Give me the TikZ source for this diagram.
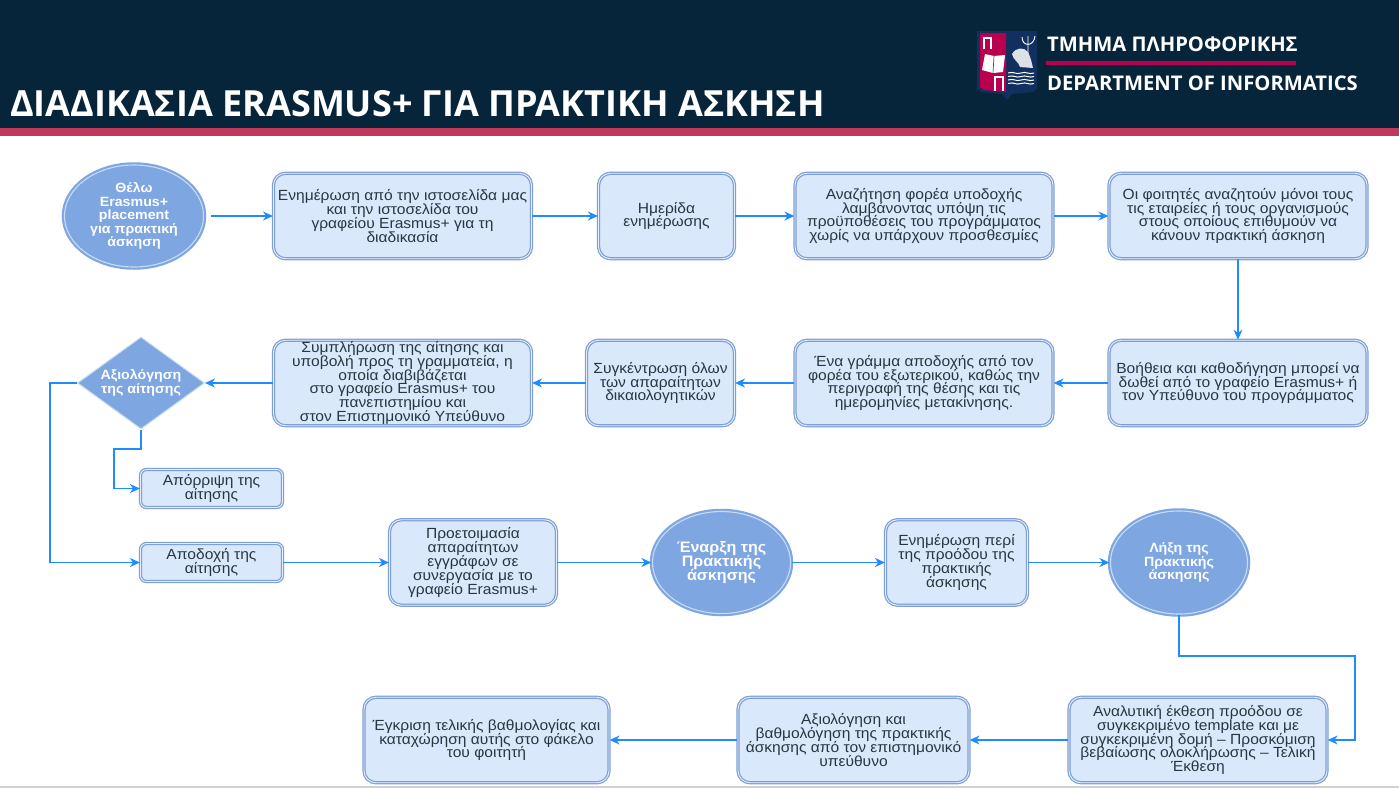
\documentclass[tikz,border=0pt]{standalone}
\usepackage{fontspec}
\setmainfont[FakeStretch=1.06]{Liberation Sans}
\newfontfamily\titlefont{Open Sans}
\usetikzlibrary{arrows.meta,shapes.geometric}

\normallineskiplimit=-10pt
\lineskiplimit=-10pt

\definecolor{headerblue}{HTML}{06243A}
\definecolor{stripered}{HTML}{BD3A5C}
\definecolor{logored}{HTML}{B8004F}
\definecolor{logonavy}{HTML}{12305F}
\definecolor{boxfill}{HTML}{DAE8FC}
\definecolor{boxline}{HTML}{7E9FD4}
\definecolor{startfill}{HTML}{7EA6E0}
\definecolor{startring}{HTML}{C9DBF5}
\definecolor{flowblue}{HTML}{1E8CFF}
\definecolor{boxtext}{HTML}{26383F}

\tikzset{
	stepbox/.style={draw=boxline,line width=1.2pt,double=boxfill!70!white,double distance=0.9pt,fill=boxfill,
		rounded corners=12pt,align=center,inner sep=0pt,text=boxtext,minimum height=85.5pt,
		font=\fontsize{14.7}{13.8}\selectfont},
	smallbox/.style={stepbox,minimum width=142pt,minimum height=38pt,rounded corners=6pt},
	eventnode/.style={ellipse,draw=startfill,line width=2.2pt,double=startring,double distance=1.1pt,fill=startfill,
		align=center,inner sep=0pt,text=white,font=\fontsize{13.4}{13.4}\selectfont\bfseries},
	decisionnode/.style={diamond,aspect=1.37,draw=startring,line width=1pt,fill=startfill,align=center,inner sep=0pt,
		text=white,font=\fontsize{13.4}{13.9}\selectfont\bfseries},
	flow/.style={draw=flowblue,line width=1.4pt,-{Stealth[length=10pt,width=9pt]}},
	headertext/.style={text=white,inner sep=0pt,anchor=base west}
}

\begin{document}
\begin{tikzpicture}[x=1pt,y=-1pt]
	\useasboundingbox (0,0) rectangle (1399,788);

	% Drawing header band
	\fill [headerblue] (0,0) rectangle (1399,128);
	\fill [stripered] (0,128) rectangle (1399,136);
	\fill [black!18] (0,786) rectangle (1399,788);

	% Marking title
	\node (titleText) [headertext,font=\titlefont\fontsize{36}{40}\selectfont\bfseries] at (10,116) {ΔΙΑΔΙΚΑΣΙΑ ERASMUS+ ΓΙΑ ΠΡΑΚΤΙΚΗ ΑΣΚΗΣΗ};
	\node (deptGreek) [headertext,font=\titlefont\fontsize{20.2}{22}\selectfont\bfseries] at (1047,51) {ΤΜΗΜΑ ΠΛΗΡΟΦΟΡΙΚΗΣ};
	\node (deptEnglish) [headertext,font=\titlefont\fontsize{20.2}{22}\selectfont\bfseries] at (1047,90) {DEPARTMENT OF INFORMATICS};
	\fill [logored] (1046,61) rectangle (1296,65);

	% Drawing shield
	\fill [logonavy] (977,31) -- (1037,31) -- (1037,88) -- (1033,92) -- (1012,94) -- (1007,100) -- (1002,94) -- (981,92) -- (977,88) -- cycle;
	\fill [logored] (980,33) -- (1006,33) -- (1006,92) -- (984,90) -- (980,87) -- cycle;
	\draw [white,line width=2pt] (984,49) -- (984,38) -- (991,38) -- (991,49);
	\draw [white,line width=2pt] (995,91) -- (995,77) -- (1003,77) -- (1003,91);
	\fill [white] (985,54) -- (994,56) -- (1005,55) -- (1003,72) -- (993,73) -- (982,70) -- cycle;
	\draw [black!70,line width=0.7pt] (994,56) -- (993,73);
	\draw [white,line width=0.9pt] (1028,36) -- (1028,64) (1022,37) .. controls (1022,47) and (1034,47) .. (1035,36);
	\fill [white!85!logonavy] (1012,54) .. controls (1016,47) and (1024,47) .. (1028,52) .. controls (1031,58) and (1032,64) .. (1033,68) -- (1020,67) .. controls (1019,62) and (1013,60) .. (1012,54) -- cycle;
	\foreach \wavey in {73,76.5,80,83.5}
		\draw [white,line width=1pt] (1008,\wavey) .. controls (1014,\wavey-2) and (1016,\wavey+2) .. (1021,\wavey) .. controls (1026,\wavey-2) and (1029,\wavey+2) .. (1034,\wavey);

	% Drawing first row
	\node (startPoint) [eventnode,minimum width=139pt,minimum height=102pt] at (134,216) {Θέλω\\Erasmus+\\placement\\για πρακτική\\άσκηση};
	\node (boxWebsite) [stepbox,minimum width=258pt] at (402.5,216) {Ενημέρωση από την ιστοσελίδα μας\\και την ιστοσελίδα του\\γραφείου Erasmus+ για τη\\διαδικασία};
	\node (boxBriefing) [stepbox,minimum width=136pt] at (666.5,216) {Ημερίδα\\ενημέρωσης};
	\node (boxSearch) [stepbox,minimum width=258pt] at (924,216) {Αναζήτηση φορέα υποδοχής\\λαμβάνοντας υπόψη τις\\προϋποθέσεις του προγράμματος\\χωρίς να υπάρχουν προσθεσμίες};
	\node (boxStudents) [stepbox,minimum width=258pt] at (1238,216) {Οι φοιτητές αναζητούν μόνοι τους\\τις εταιρείες ή τους οργανισμούς\\στους οποίους επιθυμούν να\\κάνουν πρακτική άσκηση};

	% Drawing second row
	\node (boxHelp) [stepbox,minimum width=258pt] at (1238,383) {Βοήθεια και καθοδήγηση μπορεί να\\δωθεί από το γραφείο Erasmus+ ή\\τον Υπεύθυνο του προγράμματος};
	\node (boxLetter) [stepbox,minimum width=258pt] at (924,383) {Ένα γράμμα αποδοχής από τον\\φορέα του εξωτερικού, καθώς την\\περιγραφή της θέσης και τις\\ημερομηνίες μετακίνησης.};
	\node (boxPapers) [stepbox,minimum width=148pt] at (660.5,383) {Συγκέντρωση όλων\\των απαραίτητων\\δικαιολογητικών};
	\node (boxApply) [stepbox,minimum width=258pt] at (402.5,383) {Συμπλήρωση της αίτησης και\\υποβολή προς τη γραμματεία, η\\οποία διαβιβάζεται\\στο γραφείο Erasmus+ του\\πανεπιστημίου και\\στον Επιστημονικό Υπεύθυνο};
	\node (checkApply) [decisionnode,minimum width=127pt,minimum height=92pt] at (141,383) {Αξιολόγηση\\της αίτησης};

	% Drawing third row
	\node (boxReject) [smallbox] at (211.5,488.5) {Απόρριψη της\\αίτησης};
	\node (boxAccept) [smallbox] at (211.5,562.5) {Αποδοχή της\\αίτησης};
	\node (boxPrepare) [stepbox,minimum width=167pt] at (473,562.5) {Προετοιμασία\\απαραίτητων\\εγγράφων σε\\συνεργασία με το\\γραφείο Erasmus+};
	\node (startPractice) [eventnode,minimum width=138pt,minimum height=102pt,font=\fontsize{15.2}{14}\selectfont\bfseries] at (721.5,562.5) {Έναρξη της\\Πρακτικής\\άσκησης};
	\node (boxProgress) [stepbox,minimum width=142pt] at (956.5,562.5) {Ενημέρωση περί\\της προόδου της\\πρακτικής\\άσκησης};
	\node (endPractice) [eventnode,minimum width=137pt,minimum height=103pt] at (1179,562.5) {Λήξη της\\Πρακτικής\\άσκησης};

	% Drawing fourth row
	\node (boxReport) [stepbox,minimum width=258pt] at (1198,740) {Αναλυτική έκθεση προόδου σε\\συγκεκριμένο template και με\\συγκεκριμένη δομή -- Προσκόμιση\\βεβαίωσης ολοκλήρωσης -- Τελική\\Έκθεση};
	\node (boxGrade) [stepbox,minimum width=231pt] at (853.5,740) {Αξιολόγηση και\\βαθμολόγηση της πρακτικής\\άσκησης από τον επιστημονικό\\υπεύθυνο};
	\node (boxFinal) [stepbox,minimum width=245pt] at (486.5,740) {Έγκριση τελικής βαθμολογίας και\\καταχώρηση αυτής στο φάκελο\\του φοιτητή};

	% Drawing elbows
	\coordinate (elbowReject) at (114,449);
	\coordinate (elbowAccept) at (50,383);
	\coordinate (elbowEnd) at (1355,656);

	% Drawing connectors
	\draw [flow,shorten <=6pt] (startPoint.east) -- (boxWebsite.west);
	\draw [flow] (boxWebsite.east) -- (boxBriefing.west);
	\draw [flow] (boxBriefing.east) -- (boxSearch.west);
	\draw [flow] (boxSearch.east) -- (boxStudents.west);
	\draw [flow] (boxStudents.south) -- (boxHelp.north);
	\draw [flow] (boxHelp.west) -- (boxLetter.east);
	\draw [flow] (boxLetter.west) -- (boxPapers.east);
	\draw [flow] (boxPapers.west) -- (boxApply.east);
	\draw [flow] (boxApply.west) -- (checkApply.east);
	\draw [flow] (checkApply.south) |- (elbowReject) |- (boxReject.west);
	\draw [flow] (checkApply.west) -- (elbowAccept) |- (boxAccept.west);
	\draw [flow] (boxAccept.east) -- (boxPrepare.west);
	\draw [flow] (boxPrepare.east) -- (startPractice.west);
	\draw [flow] (startPractice.east) -- (boxProgress.west);
	\draw [flow] (boxProgress.east) -- (endPractice.west);
	\draw [flow] (endPractice.south) |- (elbowEnd) |- (boxReport.east);
	\draw [flow] (boxReport.west) -- (boxGrade.east);
	\draw [flow] (boxGrade.west) -- (boxFinal.east);
\end{tikzpicture}
\end{document}
